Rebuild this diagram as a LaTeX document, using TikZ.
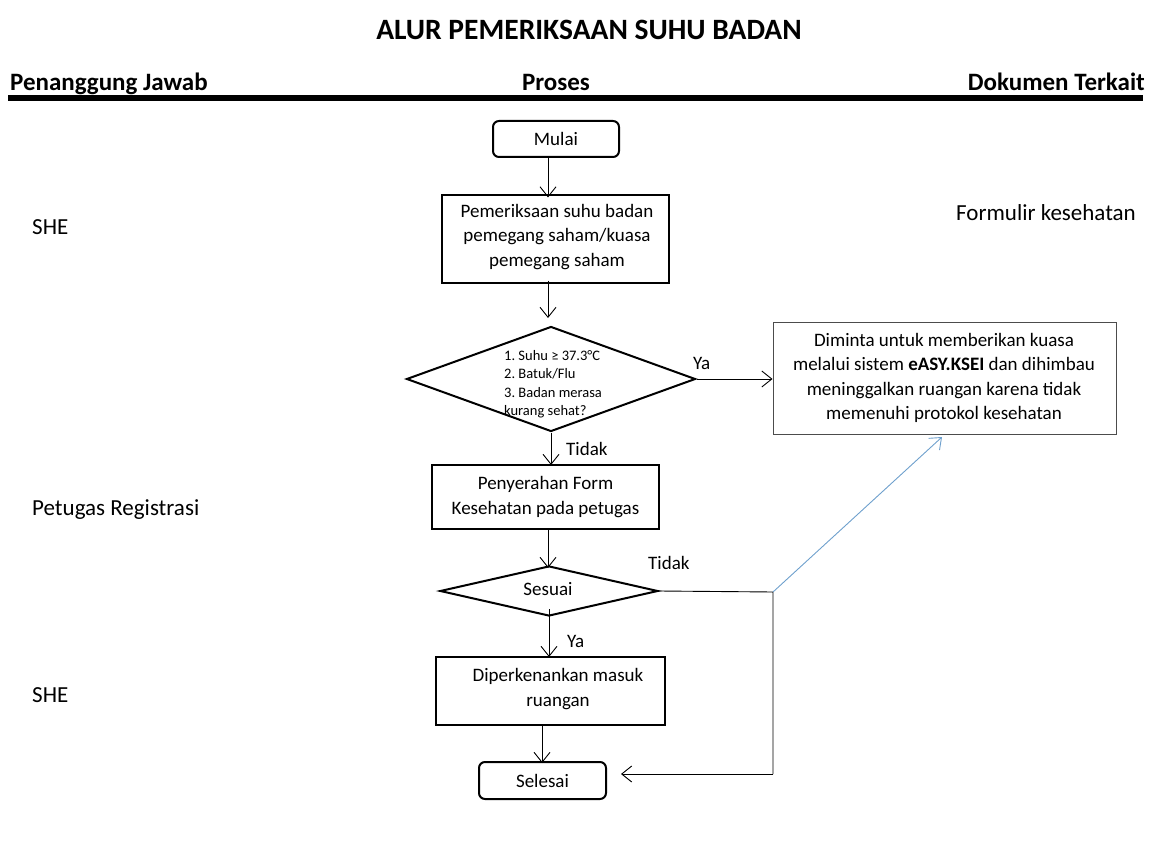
\documentclass[tikz,border=0pt]{standalone}
\usepackage{fontspec}
\setmainfont{Carlito}
\frenchspacing
\usetikzlibrary{arrows.meta,shapes.geometric}
\definecolor{steelblue}{RGB}{110,160,205}
\tikzset{
  bx/.style={draw, line width=2pt, inner sep=0pt, align=center},
  term/.style={bx, rounded corners=6pt},
  dia/.style={draw, diamond, line width=2pt, inner sep=0pt, aspect=2.7},
  arr/.style={-{Straight Barb[length=10pt,width=16pt]}, line width=0.9pt},
  txt/.style={font=\fontsize{19}{24.5}\selectfont, inner sep=0pt},
  lbl/.style={font=\fontsize{19}{22}\selectfont, inner sep=0pt},
  side/.style={font=\fontsize{23}{26}\selectfont, inner sep=0pt},
  hdr/.style={font=\bfseries\fontsize{25}{30}\selectfont, inner sep=0pt},
}
\begin{document}
\begin{tikzpicture}[x=1pt,y=-1pt]
\useasboundingbox (0,0) rectangle (1152,856);
% title and header
\node[font=\bfseries\fontsize{29.5}{34}\selectfont, inner sep=0pt, anchor=base] (title) at (589,40) {ALUR PEMERIKSAAN SUHU BADAN};
\node[hdr, anchor=base west] (h1) at (10,91) {Penanggung Jawab};
\node[hdr, anchor=base] (h2) at (556,91) {Proses};
\node[hdr, anchor=base east] (h3) at (1145,91) {Dokumen Terkait};
\draw[line width=6pt] (8,98.5) -- (1143,98.5);
% side labels
\node[side, anchor=base west] (r1) at (32,234) {SHE};
\node[side, anchor=base west] (r2) at (32,515) {Petugas Registrasi};
\node[side, anchor=base west] (r3) at (32,702) {SHE};
\node[side, anchor=base east] (d1) at (1136,221) {Formulir kesehatan};
% process
\node[term, minimum width=126, minimum height=36, txt] (mulai) at (556,139) {Mulai};
\node[bx, minimum width=227, minimum height=87, txt] (periksa) at (555,239) {};
\node[txt, align=center] at (557,237) {Pemeriksaan suhu badan\\pemegang saham/kuasa\\pemegang saham};
\node[dia, minimum width=289, minimum height=105] (cek) at (551,379) {};
\node[inner sep=0pt, align=left, anchor=west, font=\fontsize{14.5}{18.5}\selectfont] (cektext) at (504,384) {1. Suhu ≥ 37.3°C\\2. Batuk/Flu\\3. Badan merasa\\kurang sehat?};
\node[draw=black!70, line width=1pt, minimum width=343, minimum height=112, inner sep=0pt] (tolak) at (944.5,378) {};
\node[txt, align=center] at (944,378) {Diminta untuk memberikan kuasa\\melalui sistem \textbf{eASY.KSEI} dan dihimbau\\meninggalkan ruangan karena tidak\\memenuhi protokol kesehatan};
\node[bx, minimum width=227, minimum height=64, txt] (serah) at (545.5,497) {Penyerahan Form\\Kesehatan pada petugas};
\node[dia, minimum width=218, minimum height=50] (sesuai) at (549,591) {};
\node[txt] at (548,589) {Sesuai};
\node[bx, minimum width=229, minimum height=68, txt] (masuk) at (550.5,691) {};
\node[txt, align=center] at (558,689) {Diperkenankan masuk\\ruangan};
\node[term, minimum width=127, minimum height=37, txt] (selesai) at (542.5,780.5) {Selesai};
\coordinate (corner) at (773,592);
\coordinate (bottomcorner) at (773,774);
\coordinate (bluetip) at (942,437);
% connectors
\draw[arr] (mulai.south -| 548,0) -- ([yshift=-3pt]periksa.north -| 548,0);
\draw[arr] ([yshift=3pt]periksa.south -| 548,0) -- (548,318);
\draw[arr] (cek.east) -- (tolak.west |- cek.east);
\node[lbl, anchor=south west] at (693,370) {Ya};
\draw[arr] (cek.south) -- ([yshift=-1pt]serah.north -| cek.south);
\node[lbl, anchor=west] at (566,449) {Tidak};
\draw[arr] ([yshift=2pt]serah.south -| 548,0) -- ([yshift=-3pt]sesuai.north -| 548,0);
\node[lbl, anchor=west] at (648,563) {Tidak};
\draw[line width=0.9pt] (sesuai.east) -- (corner) -- (bottomcorner);
\draw[arr] (bottomcorner) -- ([xshift=14pt]selesai.east |- bottomcorner);
\draw[arr, draw=steelblue] (corner) -- (bluetip);
\draw[arr] ([yshift=8pt]sesuai.south -| 549,0) -- ([yshift=-1pt]masuk.north -| 549,0);
\node[lbl, anchor=west] at (567,641) {Ya};
\draw[arr] ([yshift=2pt]masuk.south -| 542,0) -- ([yshift=-2pt]selesai.north -| 542,0);
\end{tikzpicture}
\end{document}
